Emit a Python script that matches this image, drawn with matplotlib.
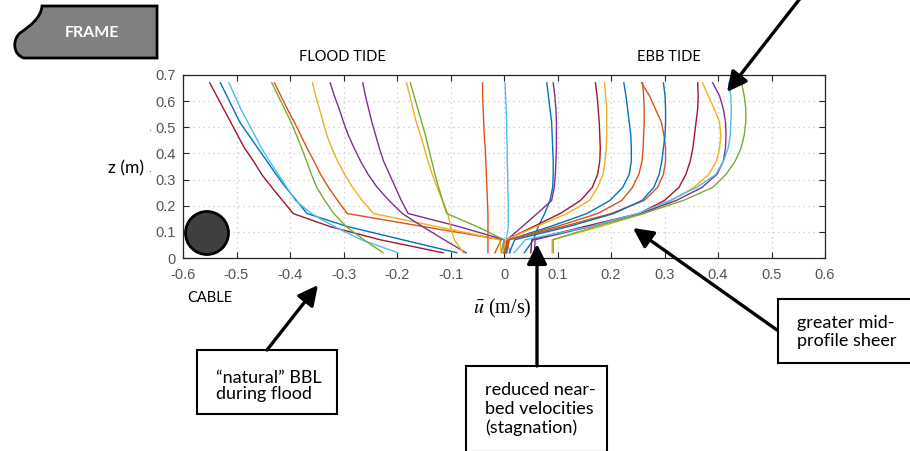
import matplotlib
matplotlib.use("Agg")
import matplotlib.pyplot as plt
from matplotlib.patches import Circle, Rectangle, PathPatch
from matplotlib.path import Path
import numpy as np

plt.rcParams['axes.unicode_minus'] = False
plt.rcParams['mathtext.fontset'] = 'stix'

# ---------------- data ----------------
z_bins = [0.02, 0.07, 0.12, 0.17, 0.22, 0.27, 0.32, 0.37, 0.42, 0.47, 0.52, 0.57, 0.62, 0.67]

# flood-tide profiles (u at each z bin, bottom -> top)
flood_darkred = [-0.114, -0.232, -0.325, -0.394, -0.414, -0.434, -0.453, -0.468, -0.485, -0.498, -0.511, -0.524, -0.537, -0.550]
flood_blue    = [-0.088, -0.190, -0.292, -0.368, -0.388, -0.408, -0.426, -0.443, -0.460, -0.477, -0.494, -0.506, -0.518, -0.530]
flood_ltblue  = [-0.198, -0.267, -0.317, -0.360, -0.390, -0.406, -0.422, -0.438, -0.453, -0.466, -0.479, -0.492, -0.503, -0.514]
flood_green1  = [-0.226, -0.262, -0.295, -0.318, -0.335, -0.350, -0.360, -0.369, -0.378, -0.388, -0.398, -0.410, -0.422, -0.434]
flood_orange1 = [-0.017, -0.005, -0.150, -0.293, -0.311, -0.328, -0.343, -0.355, -0.368, -0.380, -0.392, -0.405, -0.417, -0.429]
flood_yellow1 = [-0.005, -0.008, -0.125, -0.244, -0.265, -0.283, -0.298, -0.311, -0.322, -0.331, -0.338, -0.345, -0.352, -0.358]
flood_purple1 = [-0.071, -0.112, -0.152, -0.190, -0.215, -0.237, -0.254, -0.268, -0.280, -0.291, -0.300, -0.308, -0.317, -0.325]
flood_purple2 = [0.000, 0.000, -0.084, -0.179, -0.192, -0.203, -0.214, -0.225, -0.233, -0.240, -0.247, -0.253, -0.259, -0.264]
flood_yellow2 = [-0.076, -0.093, -0.100, -0.105, -0.115, -0.125, -0.134, -0.142, -0.149, -0.156, -0.164, -0.170, -0.176, -0.182]
flood_green2  = [-0.005, 0.000, -0.050, -0.107, -0.115, -0.122, -0.129, -0.135, -0.141, -0.147, -0.154, -0.161, -0.168, -0.175]
flood_orange2 = [-0.030, -0.030, -0.030, -0.030, -0.031, -0.032, -0.033, -0.034, -0.035, -0.037, -0.038, -0.039, -0.040, -0.040]
slack_ltblue  = [0.012, 0.004, 0.008, 0.008, 0.008, 0.007, 0.007, 0.006, 0.006, 0.005, 0.005, 0.004, 0.003, 0.002]

# ebb-tide profiles
ebb_blue1    = [0.038, 0.055, 0.064, 0.076, 0.086, 0.091, 0.092, 0.092, 0.091, 0.090, 0.089, 0.086, 0.083, 0.080]
ebb_purple1  = [0.000, 0.006, 0.034, 0.062, 0.089, 0.094, 0.096, 0.097, 0.098, 0.098, 0.098, 0.097, 0.095, 0.092]
ebb_darkred1 = [0.005, 0.005, 0.055, 0.105, 0.143, 0.165, 0.175, 0.179, 0.180, 0.179, 0.178, 0.176, 0.174, 0.171]
ebb_yellow1  = [-0.002, 0.004, 0.060, 0.118, 0.160, 0.175, 0.185, 0.189, 0.191, 0.192, 0.192, 0.192, 0.190, 0.188]
ebb_blue2    = [0.003, 0.010, 0.086, 0.155, 0.198, 0.222, 0.234, 0.238, 0.238, 0.237, 0.234, 0.231, 0.228, 0.224]
ebb_orange1  = [0.005, 0.010, 0.110, 0.200, 0.262, 0.287, 0.298, 0.302, 0.302, 0.299, 0.294, 0.283, 0.272, 0.257]
ebb_orange2  = [0.000, 0.008, 0.098, 0.175, 0.220, 0.240, 0.252, 0.258, 0.260, 0.261, 0.262, 0.262, 0.261, 0.259]
ebb_blue3    = [0.010, 0.020, 0.120, 0.205, 0.258, 0.280, 0.290, 0.295, 0.298, 0.301, 0.302, 0.302, 0.301, 0.298]
ebb_darkred2 = [0.050, 0.052, 0.150, 0.252, 0.300, 0.327, 0.340, 0.348, 0.353, 0.356, 0.359, 0.362, 0.363, 0.362]
ebb_yellow2  = [0.090, 0.090, 0.180, 0.262, 0.313, 0.355, 0.383, 0.397, 0.403, 0.405, 0.403, 0.393, 0.382, 0.371]
ebb_purple2  = [0.057, 0.058, 0.160, 0.254, 0.322, 0.370, 0.398, 0.410, 0.414, 0.415, 0.414, 0.410, 0.403, 0.390]
ebb_ltblue   = [0.019, 0.040, 0.160, 0.250, 0.310, 0.360, 0.396, 0.410, 0.419, 0.423, 0.424, 0.425, 0.424, 0.420]
ebb_green    = [0.092, 0.092, 0.170, 0.260, 0.335, 0.390, 0.415, 0.432, 0.443, 0.449, 0.452, 0.452, 0.449, 0.444]

x_ticks = [-0.6, -0.5, -0.4, -0.3, -0.2, -0.1, 0.0, 0.1, 0.2, 0.3, 0.4, 0.5, 0.6]
x_tick_labels = ['-0.6', '-0.5', '-0.4', '-0.3', '-0.2', '-0.1', '0', '0.1', '0.2', '0.3', '0.4', '0.5', '0.6']
y_ticks = [0.0, 0.1, 0.2, 0.3, 0.4, 0.5, 0.6, 0.7]
y_tick_labels = ['0', '0.1', '0.2', '0.3', '0.4', '0.5', '0.6', '0.7']

# ---------------- styling ----------------
C = {
    'blue': '#0072BD', 'orange': '#D95319', 'yellow': '#EDB120', 'purple': '#7E2F8E',
    'green': '#77AC30', 'ltblue': '#4DBEEE', 'darkred': '#A2142F',
}
profiles = [
    (flood_darkred, 'darkred'), (flood_blue, 'blue'), (flood_ltblue, 'ltblue'),
    (flood_green1, 'green'), (flood_orange1, 'orange'), (flood_yellow1, 'yellow'),
    (flood_purple1, 'purple'), (flood_purple2, 'purple'), (flood_yellow2, 'yellow'),
    (flood_green2, 'green'), (flood_orange2, 'orange'), (slack_ltblue, 'ltblue'),
    (ebb_blue1, 'blue'), (ebb_purple1, 'purple'), (ebb_darkred1, 'darkred'),
    (ebb_yellow1, 'yellow'), (ebb_blue2, 'blue'), (ebb_orange1, 'orange'),
    (ebb_orange2, 'orange'), (ebb_blue3, 'blue'), (ebb_darkred2, 'darkred'),
    (ebb_yellow2, 'yellow'), (ebb_purple2, 'purple'), (ebb_ltblue, 'ltblue'),
    (ebb_green, 'green'),
]

W, H = 910, 451
fig = plt.figure(figsize=(W / 100, H / 100), dpi=100)
fig.patch.set_facecolor('white')

ax = fig.add_axes([183 / W, 1 - 258 / H, 642 / W, 183 / H])
for u, c in profiles:
    ax.plot(u, z_bins, color=C[c], lw=1.0, solid_joinstyle='round')

ax.set_xlim(-0.6, 0.6)
ax.set_ylim(0, 0.7)
ax.set_xticks(x_ticks)
ax.set_xticklabels(x_tick_labels)
ax.set_yticks(y_ticks)
ax.set_yticklabels(y_tick_labels)
ax.grid(True, color='#c8c8c8', linestyle=(0, (1, 3)), lw=0.9)
ax.tick_params(direction='in', top=True, right=True, length=4, width=0.8,
               color='#262626', labelcolor='#555555', labelsize=10.5)
ax.tick_params(axis='x', pad=7)
ax.tick_params(axis='y', pad=5)
for lab in ax.get_xticklabels() + ax.get_yticklabels():
    lab.set_family('Liberation Sans')
for s in ax.spines.values():
    s.set_color('#262626')
    s.set_linewidth(0.9)

# ---------------- overlay in pixel coordinates ----------------
ov = fig.add_axes([0, 0, 1, 1])
ov.set_xlim(0, W)
ov.set_ylim(H, 0)
ov.axis('off')
ov.patch.set_alpha(0)

# FRAME shape
verts = [(157, 6), (42, 6), (41, 18), (30, 26), (20, 33), (12, 40), (13, 55), (24, 58), (157, 58), (157, 6)]
codes = [Path.MOVETO, Path.LINETO, Path.CURVE4, Path.CURVE4, Path.CURVE4,
         Path.CURVE4, Path.CURVE4, Path.CURVE4, Path.LINETO, Path.CLOSEPOLY]
ov.add_patch(PathPatch(Path(verts, codes), facecolor='#808080', edgecolor='black', lw=2))
ov.text(92, 33, 'FRAME', color='white', fontsize=11.5, fontweight='bold',
        family='Lato', ha='center', va='center')

# cable
ov.add_patch(Circle((207, 233), 21.5, facecolor='#3f3f3f', edgecolor='black', lw=2, zorder=5))
ov.text(210, 298, 'CABLE', fontsize=10.5, family='Lato', ha='center', va='center')

# headings and axis labels
ov.text(342, 57, 'FLOOD TIDE', fontsize=10.5, family='Lato', ha='center', va='center')
ov.text(669, 57, 'EBB TIDE', fontsize=10.5, family='Lato', ha='center', va='center')
ov.text(126, 168, 'z (m)', fontsize=12.5, family='Lato', ha='center', va='center')
ov.text(150, 131, '\u00b7', fontsize=7, color='#555555', ha='center', va='center')
ov.text(151, 172, '\u00b7', fontsize=7, color='#555555', ha='center', va='center')
ov.text(502, 308, r'$\bar{u}$ (m/s)', fontsize=14.5, family='Liberation Serif', ha='center', va='center')

# boxes
def box(x0, y0, x1, y1):
    ov.add_patch(Rectangle((x0, y0), x1 - x0, y1 - y0, facecolor='white', edgecolor='black', lw=1.5))

def arrow(start, tip):
    ov.annotate('', xy=tip, xytext=start, xycoords='data', textcoords='data',
                arrowprops=dict(arrowstyle='-|>,head_length=0.6,head_width=0.3',
                                mutation_scale=20, lw=2.4, color='black',
                                shrinkA=0, shrinkB=0))

box(197, 350, 337, 414)
ov.text(216, 386, '\u201cnatural\u201d BBL\nduring flood', fontsize=13, family='Lato',
        ha='left', va='center', linespacing=1.0)
arrow((267, 350), (318, 285))

box(466, 366, 607, 452)
ov.text(485, 409, 'reduced near-\nbed velocities\n(stagnation)', fontsize=13, family='Lato',
        ha='left', va='center', linespacing=1.2)
arrow((537, 366), (537, 244))

box(778, 299, 912, 363)
ov.text(797, 332, 'greater mid-\nprofile sheer', fontsize=13, family='Lato',
        ha='left', va='center', linespacing=1.15)
arrow((777, 330), (633, 228))

arrow((802, -4), (727, 92))

fig.savefig('out.png', dpi=100)
